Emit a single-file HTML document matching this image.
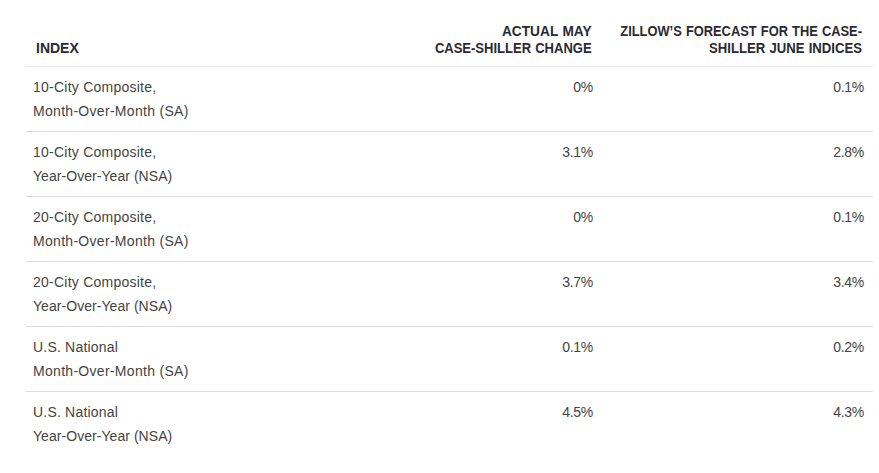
<!DOCTYPE html>
<html><head><meta charset="utf-8">
<style>
html,body{margin:0;padding:0;background:#fff;}
body{width:879px;height:473px;overflow:hidden;position:relative;font-family:"Liberation Sans",sans-serif;}
.t{position:absolute;white-space:nowrap;}
.h{font-weight:bold;font-size:14px;line-height:17px;color:#2a2a33;}
.c{font-size:14px;line-height:24px;color:#444;}
.r{text-align:right;}
.b{position:absolute;left:26px;width:847px;height:1px;background:#ddd;}
</style></head><body>
<div class="b" style="top:66px;background:#ebebeb"></div>
<div class="b" style="top:131px"></div>
<div class="b" style="top:196px"></div>
<div class="b" style="top:261px"></div>
<div class="b" style="top:326px"></div>
<div class="b" style="top:391px"></div>
<div class="t h" style="left:36px;top:40px">INDEX</div>
<div class="t h r" style="right:287px;top:23px;word-spacing:0.6px;transform:scaleX(0.979);transform-origin:100% 50%">ACTUAL MAY</div>
<div class="t h r" style="right:287px;top:40px;word-spacing:0.6px;transform:scaleX(0.9295);transform-origin:100% 50%">CASE-SHILLER CHANGE</div>
<div class="t h r" style="right:17px;top:23px;word-spacing:0.6px;transform:scaleX(0.919);transform-origin:100% 50%">ZILLOW’S FORECAST FOR THE CASE-</div>
<div class="t h r" style="right:17px;top:40px;word-spacing:0.6px;transform:scaleX(0.9386);transform-origin:100% 50%">SHILLER JUNE INDICES</div>
<div class="t c" style="left:33px;top:75px;letter-spacing:0.24px">10-City Composite,</div>
<div class="t c" style="left:33px;top:99px;letter-spacing:0.3px">Month-Over-Month (SA)</div>
<div class="t c r" style="right:286px;top:75px;letter-spacing:-0.3px">0%</div>
<div class="t c r" style="right:15px;top:75px;letter-spacing:-0.3px">0.1%</div>
<div class="t c" style="left:33px;top:140px;letter-spacing:0.24px">10-City Composite,</div>
<div class="t c" style="left:33px;top:164px;letter-spacing:0.05px">Year-Over-Year (NSA)</div>
<div class="t c r" style="right:286px;top:140px;letter-spacing:-0.3px">3.1%</div>
<div class="t c r" style="right:15px;top:140px;letter-spacing:-0.3px">2.8%</div>
<div class="t c" style="left:33px;top:205px;letter-spacing:0.24px">20-City Composite,</div>
<div class="t c" style="left:33px;top:229px;letter-spacing:0.3px">Month-Over-Month (SA)</div>
<div class="t c r" style="right:286px;top:205px;letter-spacing:-0.3px">0%</div>
<div class="t c r" style="right:15px;top:205px;letter-spacing:-0.3px">0.1%</div>
<div class="t c" style="left:33px;top:270px;letter-spacing:0.24px">20-City Composite,</div>
<div class="t c" style="left:33px;top:294px;letter-spacing:0.05px">Year-Over-Year (NSA)</div>
<div class="t c r" style="right:286px;top:270px;letter-spacing:-0.3px">3.7%</div>
<div class="t c r" style="right:15px;top:270px;letter-spacing:-0.3px">3.4%</div>
<div class="t c" style="left:33px;top:335px;letter-spacing:0.2px">U.S. National</div>
<div class="t c" style="left:33px;top:359px;letter-spacing:0.3px">Month-Over-Month (SA)</div>
<div class="t c r" style="right:286px;top:335px;letter-spacing:-0.3px">0.1%</div>
<div class="t c r" style="right:15px;top:335px;letter-spacing:-0.3px">0.2%</div>
<div class="t c" style="left:33px;top:400px;letter-spacing:0.2px">U.S. National</div>
<div class="t c" style="left:33px;top:424px;letter-spacing:0.05px">Year-Over-Year (NSA)</div>
<div class="t c r" style="right:286px;top:400px;letter-spacing:-0.3px">4.5%</div>
<div class="t c r" style="right:15px;top:400px;letter-spacing:-0.3px">4.3%</div>
</body></html>
